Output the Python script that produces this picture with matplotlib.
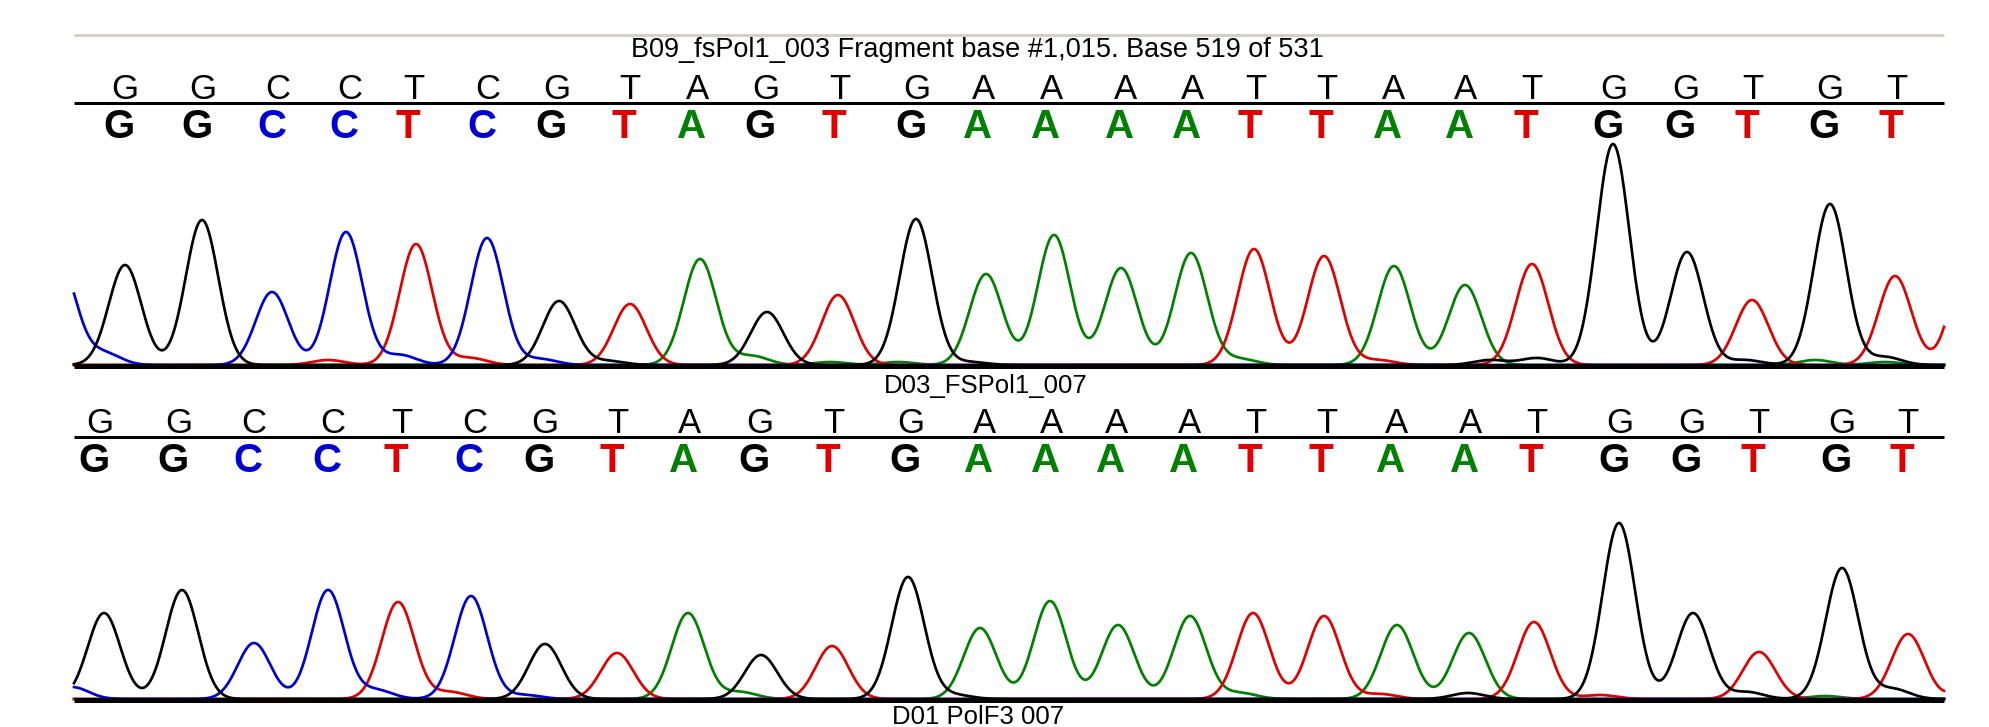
import numpy as np
import matplotlib
matplotlib.use("Agg")
import matplotlib.pyplot as plt
from matplotlib import font_manager

# ---------------- data ----------------
title = "B09_fsPol1_003 Fragment base #1,015. Base 519 of 531"
label_mid = "D03_FSPol1_007"
label_bottom = "D01 PolF3 007"

bases = list("GGCCTCGTAGTGAAAATTAATGGTGT")

# top chromatogram: peak positions (px along trace) and heights
top_peak_x = [125, 202, 272, 346, 416, 487, 559, 630, 700, 767, 838, 916, 986,
              1054, 1121, 1191, 1254, 1324, 1394, 1465, 1532, 1613, 1687, 1752, 1830, 1895]
top_peak_h = [100, 145, 73, 133, 121, 127, 64, 61, 106, 53, 70, 146, 91,
              130, 97, 112, 116, 109, 99, 80, 101, 221, 113, 65, 161, 89]
top_call_x = [125, 203, 278, 350, 414, 488, 557, 630, 698, 766, 840, 917, 984,
              1052, 1126, 1193, 1256, 1327, 1394, 1466, 1532, 1614, 1686, 1753, 1830, 1897]
top_minor_base = ["C", "C", "T", "C", "T", "C", "G", "A", "A", "A", "G", "A",
                  "T", "G", "G", "G", "A", "G", "A", "T"]
top_minor_x = [60, 104, 328, 400, 470, 540, 608, 752, 830, 898, 970, 1240,
               1378, 1490, 1537, 1745, 1815, 1885, 1885, 1968]
top_minor_h = [100, 12, 5, 10, 7, 6, 4, 9, 3, 3, 3, 6,
               5, 5, 7, 5, 5, 8, 3, 110]

# bottom chromatogram
bot_peak_x = [104, 182, 254, 328, 398, 471, 545, 617, 688, 761, 832, 908, 980,
              1050, 1118, 1190, 1253, 1324, 1397, 1469, 1534, 1619, 1693, 1759, 1842, 1908]
bot_peak_h = [86, 109, 56, 109, 97, 103, 55, 46, 86, 44, 53, 122, 71,
              98, 74, 83, 86, 83, 74, 66, 77, 176, 86, 47, 131, 65]
bot_call_x = [100, 179, 254, 333, 402, 475, 545, 618, 690, 760, 834, 911, 985,
              1052, 1117, 1190, 1256, 1327, 1397, 1471, 1537, 1620, 1692, 1759, 1842, 1908]
bot_minor_base = ["C", "C", "T", "C", "A", "G", "A", "T", "G", "T", "G", "A", "G", "T"]
bot_minor_x = [72, 376, 450, 525, 740, 955, 1240, 1380, 1468, 1600, 1747, 1825, 1893, 1985]
bot_minor_h = [12, 9, 7, 4, 7, 4, 6, 5, 6, 4, 7, 3, 10, 60]

# ---------------- style ----------------
W, H = 1989, 727
X0, X1 = 74, 1944
SIGMA = 16.3
COLORS = {"A": "#008000", "C": "#0000d4", "G": "#000000", "T": "#e00000"}
PX = 72.0 / 100.0  # points per pixel

names = {f.name for f in font_manager.fontManager.ttflist}
SANS = "Liberation Sans" if "Liberation Sans" in names else "DejaVu Sans"
NARROW = "Liberation Sans Narrow" if "Liberation Sans Narrow" in names else SANS

fig = plt.figure(figsize=(W / 100, H / 100), dpi=100)
ax = fig.add_axes([0, 0, 1, 1])
ax.set_xlim(0, W)
ax.set_ylim(H, 0)
ax.axis("off")

# top grey separator
ax.plot([X0, X1], [34.5, 34.5], color="#d4d0c8", lw=3 * PX, solid_capstyle="butt")

ax.text(977, 50, title, ha="center", va="center", fontsize=19.5, family=SANS)


def panel(y_plain, y_line, y_bold, y_zero, call_x, peak_x, peak_h,
          minor_base, minor_x, minor_h):
    # base call letters
    for b, cx in zip(bases, call_x):
        ax.text(cx, y_plain, b, ha="center", va="baseline", fontsize=25,
                family=NARROW, color="black")
        ax.text(cx - 6, y_bold, b, ha="center", va="baseline", fontsize=29,
                family=NARROW, fontweight="bold", color=COLORS[b])
    ax.plot([X0, X1], [y_line, y_line], color="black", lw=3 * PX,
            solid_capstyle="butt")
    # traces
    x = np.arange(X0, X1 + 0.25, 0.5)
    for ch in ["A", "T", "C", "G"]:
        sig = np.zeros_like(x)
        for b, p, h in zip(bases, peak_x, peak_h):
            if b == ch:
                sig += h * np.exp(-(x - p) ** 2 / (2 * SIGMA ** 2))
        for b, p, h in zip(minor_base, minor_x, minor_h):
            if b == ch:
                sig += h * np.exp(-(x - p) ** 2 / (2 * SIGMA ** 2))
        ax.plot(x, y_zero - sig, color=COLORS[ch], lw=2.7 * PX, zorder=2)
    ax.plot([X0, X1], [y_zero + 0.5, y_zero + 0.5], color="black", lw=5 * PX,
            solid_capstyle="butt", zorder=3)


panel(99, 103, 138, 365, top_call_x, top_peak_x, top_peak_h,
      top_minor_base, top_minor_x, top_minor_h)
ax.text(986, 393, label_mid, ha="center", va="baseline", fontsize=18.5, family=SANS)
panel(433, 437, 472, 699, bot_call_x, bot_peak_x, bot_peak_h,
      bot_minor_base, bot_minor_x, bot_minor_h)
ax.text(978, 724, label_bottom, ha="center", va="baseline", fontsize=18.5, family=SANS)

fig.savefig("out.png", dpi=100, facecolor="white")
